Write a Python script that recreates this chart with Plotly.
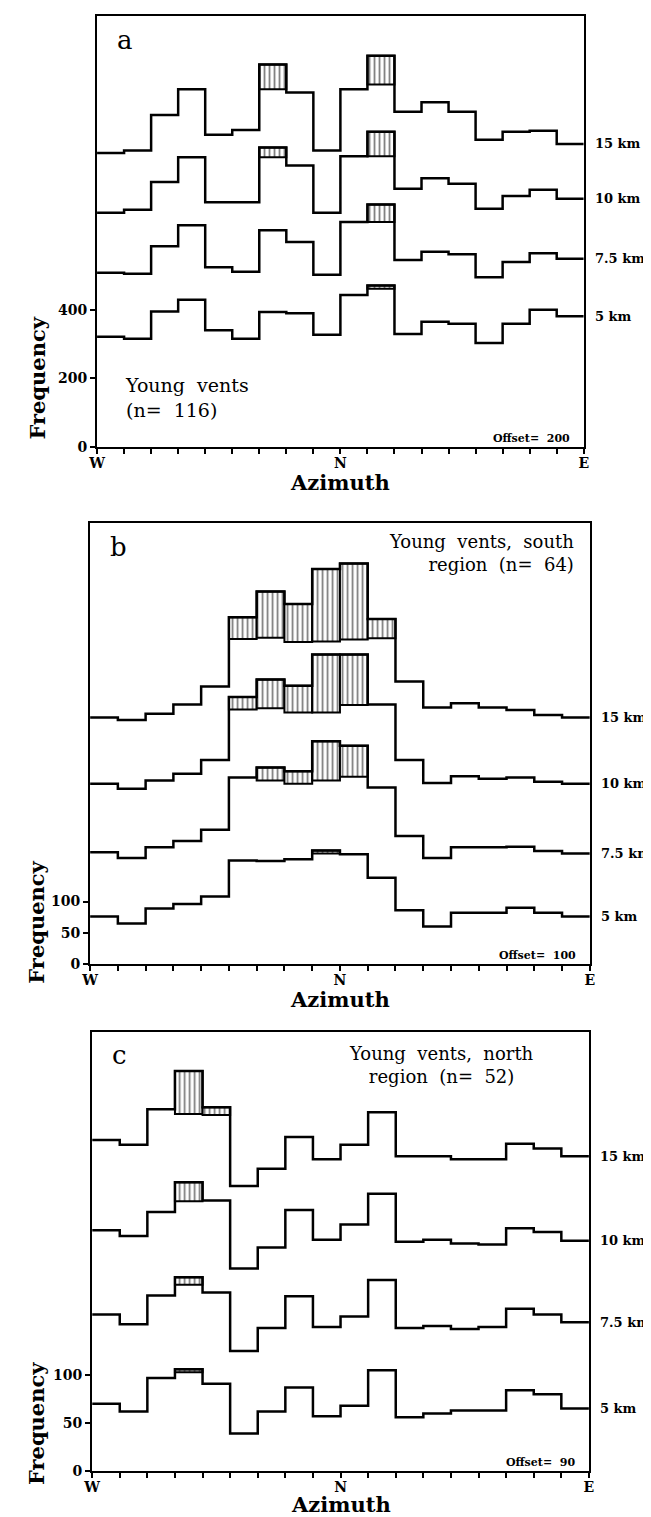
import plotly.graph_objects as go

W, H = 651, 1517
FONT = "DejaVu Serif"

# ---------------- data ----------------
EDGES = [-90, -80, -70, -60, -50, -40, -30, -20, -10, 0, 10, 20, 30, 40, 50, 60, 70, 80, 90]
CENTERS = [-85, -75, -65, -55, -45, -35, -25, -15, -5, 5, 15, 25, 35, 45, 55, 65, 75, 85]
DIST_LABELS = ["5 km", "7.5 km", "10 km", "15 km"]

# Panel a: Young vents (n=116), offset 200
A_5 = [321, 315, 395, 429, 340, 315, 393, 390, 327, 443, 471, 329, 365, 359, 303, 359, 400, 381]
A_7 = [308, 305, 385, 447, 324, 311, 432, 398, 302, 456, 507, 345, 369, 362, 295, 339, 365, 349]
A_10 = [283, 292, 373, 445, 314, 314, 474, 421, 283, 448, 520, 353, 384, 368, 295, 332, 350, 324]
A_15 = [258, 265, 369, 444, 311, 325, 516, 434, 265, 444, 542, 378, 406, 378, 296, 320, 323, 284]
A_H5 = [(15, 461)]
A_H7 = [(15, 456)]
A_H10 = [(-25, 445), (15, 448)]
A_H15 = [(-25, 444), (15, 458)]
A_OFFSET = 200

# Panel b: Young vents, south region (n=64), offset 100
B_5 = [76, 65, 89, 96, 108, 166, 165, 168, 182, 176, 138, 86, 60, 82, 82, 90, 82, 76]
B_7 = [79, 70, 87, 97, 115, 199, 215, 209, 257, 250, 183, 105, 70, 87, 87, 88, 81, 77]
B_10 = [89, 81, 94, 105, 127, 228, 256, 246, 296, 296, 216, 127, 90, 101, 97, 99, 92, 89]
B_15 = [95, 91, 101, 116, 145, 256, 297, 277, 333, 342, 253, 153, 111, 118, 111, 107, 99, 95]
B_H5 = [(-5, 177)]
B_H7 = [(-25, 194), (-15, 189), (-5, 194), (5, 200)]
B_H10 = [(-35, 208), (-25, 210), (-15, 203), (-5, 203), (5, 215)]
B_H15 = [(-35, 221), (-25, 223), (-15, 216), (-5, 217), (5, 220), (15, 222)]
B_OFFSET = 100

# Panel c: Young vents, north region (n=52), offset 90
C_5 = [70, 62, 97, 106, 91, 39, 62, 87, 57, 68, 105, 56, 60, 63, 63, 84, 80, 65]
C_7 = [73, 63, 93, 112, 96, 35, 59, 92, 60, 71, 109, 59, 61, 58, 60, 79, 73, 65]
C_10 = [71, 65, 90, 121, 102, 31, 53, 92, 61, 77, 109, 59, 61, 57, 56, 73, 69, 60]
C_15 = [75, 70, 107, 147, 109, 27, 45, 78, 55, 70, 104, 58, 58, 55, 55, 71, 66, 58]
C_H5 = [(-55, 103)]
C_H7 = [(-55, 104)]
C_H10 = [(-55, 101)]
C_H15 = [(-55, 102), (-45, 101)]
C_OFFSET = 90

X_TICKTEXT = ["W", "", "", "", "", "", "", "", "", "N", "", "", "", "", "", "", "", "", "E"]

PANELS = [
    dict(letter="a", curves=[A_5, A_7, A_10, A_15], hatches=[A_H5, A_H7, A_H10, A_H15],
         offset=A_OFFSET, yticks=[0, 200, 400], ymax=1257,
         box=(81.8, 8.3, 579.2, 441.0), title="Young vents", sub="(n= 116)",
         freq_y=372),
    dict(letter="b", curves=[B_5, B_7, B_10, B_15], hatches=[B_H5, B_H7, B_H10, B_H15],
         offset=B_OFFSET, yticks=[0, 50, 100], ymax=707,
         box=(74.7, 517.7, 585.4, 961.0), title="Young vents, south", sub="region (n= 64)",
         freq_y=919),
    dict(letter="c", curves=[C_5, C_7, C_10, C_15], hatches=[C_H5, C_H7, C_H10, C_H15],
         offset=C_OFFSET, yticks=[0, 50, 100], ymax=458,
         box=(76.8, 1029.0, 584.5, 1470.7), title="Young vents, north", sub="region (n= 52)",
         freq_y=1423),
]


def px(x):
    return x / W


def py(y):
    return 1 - y / H


def spaced(s):
    return s.replace(" ", "\u00a0\u00a0")


fig = go.Figure()
annotations = []
layout_axes = {}

for i, p in enumerate(PANELS):
    sfx = "" if i == 0 else str(i + 1)
    xa, ya = "x" + sfx, "y" + sfx
    x0, y0, x1, y1 = p["box"]
    off = p["offset"]

    # hatched bars (excess above threshold)
    for k, (vals, hat) in enumerate(zip(p["curves"], p["hatches"])):
        if not hat:
            continue
        xs, bases, hs = [], [], []
        for c, thr in hat:
            v = vals[CENTERS.index(c)]
            xs.append(c)
            bases.append(thr + off * k)
            hs.append(v - thr)
        fig.add_trace(go.Bar(
            x=xs, y=hs, base=bases, width=10, xaxis=xa, yaxis=ya, showlegend=False,
            marker=dict(color="white", line=dict(color="black", width=2),
                        pattern=dict(shape="|", size=5, solidity=0.36,
                                     fgcolor="black", bgcolor="white")),
            hoverinfo="skip"))

    # step lines
    for k, vals in enumerate(p["curves"]):
        yv = [v + off * k for v in vals]
        fig.add_trace(go.Scatter(
            x=EDGES, y=yv + [yv[-1]], mode="lines", line=dict(color="black", width=2.5, shape="hv"),
            xaxis=xa, yaxis=ya, showlegend=False, hoverinfo="skip"))
        annotations.append(dict(
            x=px(x1), xref="paper", y=yv[-1], yref=ya, xanchor="left", yanchor="middle",
            xshift=9, showarrow=False,
            text=DIST_LABELS[k].replace(" ", "\u00a0"),
            font=dict(family=FONT, size=13, color="black", weight="bold")))

    axis_font = dict(family=FONT, size=14, color="black", weight="bold")
    layout_axes["xaxis" + sfx] = dict(
        domain=[px(x0), px(x1)], anchor=ya, range=[-90, 90],
        tickmode="array", tickvals=EDGES, ticktext=X_TICKTEXT,
        ticks="outside", ticklen=5, tickwidth=1.8, tickcolor="black",
        showline=True, linewidth=2.2, linecolor="black", mirror=True,
        showgrid=False, zeroline=False, tickfont=axis_font, ticklabelstandoff=-3)
    layout_axes["yaxis" + sfx] = dict(
        domain=[py(y1), py(y0)], anchor=xa, range=[0, p["ymax"]],
        tickmode="array", tickvals=p["yticks"], ticktext=[str(t) for t in p["yticks"]],
        ticks="outside", ticklen=5, tickwidth=1.8, tickcolor="black",
        showline=True, linewidth=2.2, linecolor="black", mirror=True,
        showgrid=False, zeroline=False, tickfont=axis_font)

    # panel letter
    annotations.append(dict(
        x=px(x0 + 18), y=py(y0 + 24), xref="paper", yref="paper", xanchor="left", yanchor="middle",
        text=p["letter"], showarrow=False, font=dict(family=FONT, size=26, color="black")))

    # description text
    if i == 0:
        annotations.append(dict(
            x=px(108), y=py(366), xref="paper", yref="paper", xanchor="left", yanchor="top",
            align="left", showarrow=False,
            text=spaced(p["title"]) + "<br>" + spaced(p["sub"]),
            font=dict(family=FONT, size=19, color="black")))
    elif i == 1:
        annotations.append(dict(
            x=px(571), y=py(524), xref="paper", yref="paper", xanchor="right", yanchor="top",
            align="right", showarrow=False,
            text=spaced(p["title"]) + "<br>" + spaced(p["sub"]),
            font=dict(family=FONT, size=18, color="black")))
    else:
        annotations.append(dict(
            x=px(434), y=py(1038), xref="paper", yref="paper", xanchor="center", yanchor="top",
            align="center", showarrow=False,
            text=spaced(p["title"]) + "<br>" + spaced(p["sub"]),
            font=dict(family=FONT, size=18, color="black")))

    # offset note
    annotations.append(dict(
        x=px(x1 - 12), y=py(y1 - 8), xref="paper", yref="paper", xanchor="right", yanchor="middle",
        text="Offset=\u00a0 " + str(off), showarrow=False,
        font=dict(family=FONT, size=11, color="black", weight="bold")))

    # axis titles
    az_y = min(y1 + 36, H - 13)
    annotations.append(dict(
        x=px((x0 + x1) / 2), y=py(az_y), xref="paper", yref="paper", xanchor="center",
        yanchor="middle", text="Azimuth", showarrow=False,
        font=dict(family=FONT, size=21, color="black", weight="bold")))
    annotations.append(dict(
        x=px(20), y=py(p["freq_y"]), xref="paper", yref="paper", xanchor="center",
        yanchor="middle", text="Frequency", textangle=-90, showarrow=False,
        font=dict(family=FONT, size=21, color="black", weight="bold")))

fig.update_layout(
    width=W, height=H, autosize=False,
    margin=dict(l=0, r=0, t=0, b=0),
    paper_bgcolor="white", plot_bgcolor="white",
    barmode="overlay", showlegend=False,
    annotations=annotations,
    **layout_axes)

fig.write_html("out.html")
